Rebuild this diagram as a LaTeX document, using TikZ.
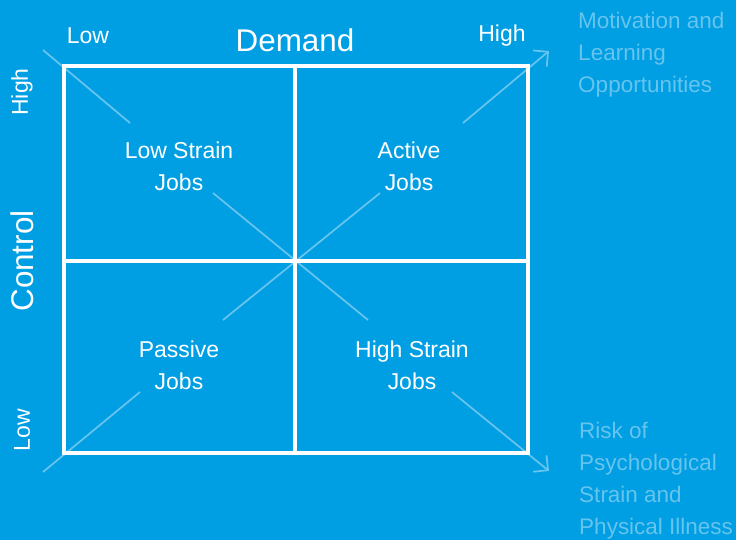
\documentclass[tikz,border=0pt]{standalone}
\usepackage{fontspec}
\setmainfont{Liberation Sans}
\usetikzlibrary{arrows.meta}
\definecolor{bgblue}{HTML}{009FE3}
\definecolor{paleblue}{HTML}{66C4EE}
\tikzset{
  gridline/.style={draw=white,line width=2.8pt},
  diag/.style={draw=paleblue,line width=1.5pt},
  diagarr/.style={diag,-{Straight Barb[length=9pt,width=18pt,line width=1.5pt]}},
  lbl/.style={text=white,inner sep=0pt,align=center,font=\fontsize{19.6}{27.5}\selectfont},
  axis/.style={text=white,inner sep=0pt,font=\fontsize{26.8}{30}\selectfont},
  outcome/.style={text=paleblue,inner sep=0pt,align=left,anchor=west,font=\fontsize{19.2}{27.3}\selectfont}
}
\begin{document}
\begin{tikzpicture}[x=0.03cm,y=-0.03cm]
\useasboundingbox (0,0) rectangle (736,540);
\fill[bgblue] (0,0) rectangle (736,540);
% corners and midpoints of the grid
\foreach \n/\x/\y in {tl/64/66,tm/295/66,tr/528/66,ml/64/261,mr/528/261,bl/64/453,bm/295/453,br/528/453}{\coordinate (\n) at (\x,\y);}
% diagonal pieces, broken around the labels
\foreach \n/\x/\y in {a1/43/50,a2/130/123,b1/213/193,b2/368/320,c1/452/392,c2/549/471,d1/43/472,d2/140/392,e1/223/320,e2/380/193,f1/463/123,f2/549/51}{\coordinate (\n) at (\x,\y);}
\draw[diag] (a1)--(a2) (b1)--(b2) (d1)--(d2) (e1)--(e2);
\draw[diagarr] (c1)--(c2);
\draw[diagarr] (f1)--(f2);
\draw[gridline] (tl) rectangle (br);
\draw[gridline] (tm)--(bm) (ml)--(mr);
% quadrants
\node[lbl] (lowstrain) at (179,166) {Low Strain\\Jobs};
\node[lbl] (active) at (409,166) {Active\\Jobs};
\node[lbl] (passive) at (179,365) {Passive\\Jobs};
\node[lbl] (highstrain) at (412,365) {High Strain\\Jobs};
% axes
\node[lbl] (dlow) at (88,36) {Low};
\node[axis] (demand) at (295,40) {Demand};
\node[lbl] (dhigh) at (502,36) {High};
\node[lbl,rotate=90] (chigh) at (22,92) {High};
\node[axis,rotate=90] (control) at (22,261) {Control};
\node[lbl,rotate=90] (clow) at (22,430) {Low};
% outcomes
\node[outcome] (motiv) at (578,55) {Motivation and\\Learning\\Opportunities};
\node[outcome] (risk) at (579,481) {Risk of\\Psychological\\Strain and\\Physical Illness};
\end{tikzpicture}
\end{document}
